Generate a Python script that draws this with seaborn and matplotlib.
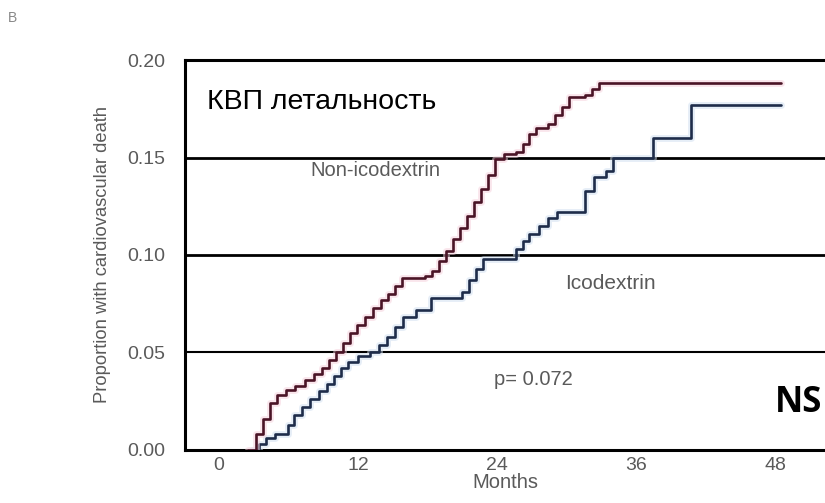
import pandas as pd
import seaborn as sns
import matplotlib.pyplot as plt
import matplotlib.patheffects as pe

# Kaplan-Meier style step curves (months, cumulative proportion)
non_ico_months = [2.5, 3.2, 3.8, 4.4, 5.0, 5.8, 6.6, 7.4, 8.2, 8.9, 9.5, 10.1, 10.7, 11.3,
                  11.9, 12.6, 13.3, 14.0, 14.6, 15.2, 15.8, 17.8, 18.4, 19.0, 19.6, 20.2,
                  20.8, 21.4, 22.0, 22.6, 23.2, 23.8, 24.6, 25.6, 26.2, 26.8, 27.4, 28.4,
                  29.0, 29.6, 30.2, 31.6, 32.2, 32.8, 48.5]
non_ico_prop = [0.0, 0.008, 0.016, 0.024, 0.028, 0.031, 0.033, 0.036, 0.039, 0.042, 0.046,
                0.050, 0.055, 0.060, 0.064, 0.068, 0.073, 0.077, 0.080, 0.084, 0.088, 0.089,
                0.092, 0.097, 0.102, 0.108, 0.114, 0.120, 0.127, 0.134, 0.141, 0.149, 0.152,
                0.153, 0.157, 0.162, 0.165, 0.167, 0.172, 0.176, 0.181, 0.182, 0.185, 0.188,
                0.188]

ico_months = [2.9, 3.5, 4.1, 4.8, 6.0, 6.5, 7.2, 7.9, 8.6, 9.3, 9.9, 10.5, 11.1, 12.0,
              13.0, 13.8, 14.5, 15.2, 15.9, 17.0, 18.3, 21.0, 21.6, 22.2, 22.8, 25.6,
              26.2, 26.8, 27.6, 28.4, 29.2, 31.6, 32.4, 33.4, 34.0, 37.5, 40.7, 48.5]
ico_prop = [0.0, 0.003, 0.006, 0.008, 0.013, 0.018, 0.022, 0.026, 0.030, 0.034, 0.038,
            0.042, 0.045, 0.048, 0.050, 0.054, 0.058, 0.063, 0.068, 0.072, 0.078, 0.081,
            0.087, 0.093, 0.098, 0.103, 0.107, 0.111, 0.115, 0.119, 0.122, 0.133, 0.140,
            0.143, 0.150, 0.160, 0.177, 0.177]

x_ticks = [0, 12, 24, 36, 48]
y_ticks = [0.00, 0.05, 0.10, 0.15, 0.20]

df = pd.concat([
    pd.DataFrame({"Months": non_ico_months, "Prop": non_ico_prop, "Group": "Non-icodextrin"}),
    pd.DataFrame({"Months": ico_months, "Prop": ico_prop, "Group": "Icodextrin"}),
])

sns.set_style("white")
plt.rcParams["font.family"] = ["Liberation Sans", "DejaVu Sans"]

fig = plt.figure(figsize=(8.25, 5.03), dpi=100)
ax = fig.add_axes([0.224, 0.1054, 0.776, 0.7753])

palette = {"Non-icodextrin": "#4a1426", "Icodextrin": "#1e2c4a"}
halo = {"Non-icodextrin": "#f5cfdb", "Icodextrin": "#cfdef0"}
for grp in ["Icodextrin", "Non-icodextrin"]:
    sns.lineplot(data=df[df["Group"] == grp], x="Months", y="Prop", ax=ax,
                 color=palette[grp], lw=1.9, drawstyle="steps-post", estimator=None,
                 legend=False, zorder=4,
                 path_effects=[pe.Stroke(linewidth=5, foreground=halo[grp], alpha=0.5),
                               pe.Normal()])

# horizontal reference lines
for yv, lw in [(0.05, 1.5), (0.10, 2.0), (0.15, 2.0)]:
    ax.axhline(yv, color="black", lw=lw, zorder=2)

ax.set_xlim(-2.94, 52.3)
ax.set_ylim(0, 0.20)
ax.set_xticks(x_ticks)
ax.set_yticks(y_ticks)
ax.set_yticklabels([f"{v:.2f}" for v in y_ticks])
ax.tick_params(axis="both", length=0, labelsize=14, labelcolor="#5a5a5a")
ax.tick_params(axis="y", pad=14)
ax.tick_params(axis="x", pad=5)

for side in ["left", "bottom", "top"]:
    ax.spines[side].set_color("black")
    ax.spines[side].set_linewidth(2.2)
ax.spines["right"].set_visible(False)

ax.set_xlabel("Months", fontsize=14.5, color="#5a5a5a", labelpad=-1)
ax.set_ylabel("Proportion with cardiovascular death", fontsize=13.2, color="#5a5a5a",
              labelpad=12)

ax.text(7.9, 0.1435, "Non-icodextrin", fontsize=14.5, color="#5a5a5a", va="center", ha="left")
ax.text(29.9, 0.0856, "Icodextrin", fontsize=15, color="#5a5a5a", va="center", ha="left")
ax.text(23.7, 0.0359, "p= 0.072", fontsize=14.5, color="#5a5a5a", va="center", ha="left")
ax.text(-1.0, 0.1785, "КВП летальность", fontsize=20.5, color="black", va="center", ha="left")
ax.text(52.1, 0.0240, "NS", fontsize=25, color="black", fontweight="bold",
        family=["Open Sans", "DejaVu Sans"], va="center", ha="right")

fig.text(0.010, 0.965, "B", fontsize=10, color="#888888", va="center")

fig.savefig("out.png", dpi=100)
